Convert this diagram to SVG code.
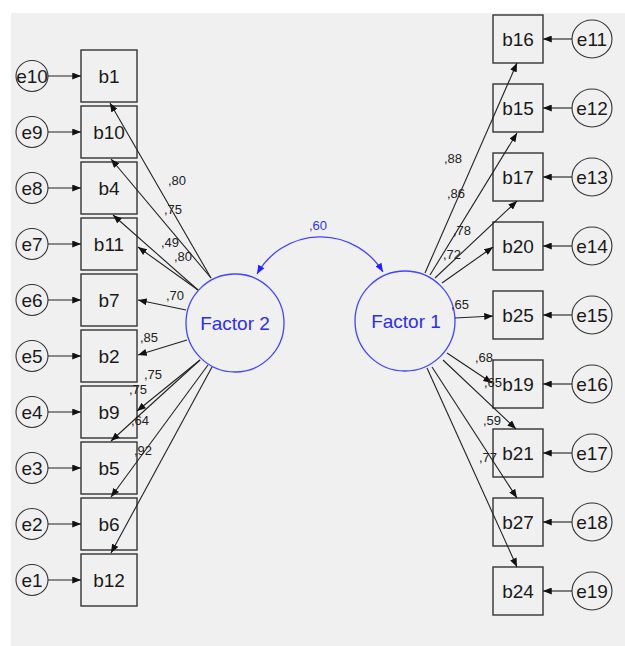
<svg xmlns="http://www.w3.org/2000/svg" width="625" height="646" viewBox="0 0 625 646">
<defs>
<style>
.box{fill:none;stroke:#333;stroke-width:1.4}
.err{fill:#f0f0f0;stroke:#333;stroke-width:1.1}
.fac{fill:#f0f0f0;stroke:#4444ff;stroke-width:1.3}
.t{font-family:"Liberation Sans",Arial,sans-serif;font-size:19px;fill:#1a1a1a;text-anchor:middle}
.ft{font-family:"Liberation Sans",Arial,sans-serif;font-size:19px;fill:#2e2ee6;text-anchor:middle}
.lb{font-family:"Liberation Sans",Arial,sans-serif;font-size:13px;fill:#222;text-anchor:middle}
.lbb{font-family:"Liberation Sans",Arial,sans-serif;font-size:13px;fill:#3333ee;text-anchor:middle}
.c{stroke:#222;stroke-width:1.1;fill:none;marker-end:url(#ah)}
.cv{stroke:#4444ff;stroke-width:1.3;fill:none;marker-end:url(#bh);marker-start:url(#bh)}
</style>
<marker id="ah" viewBox="0 0 10 8" refX="10" refY="4" markerWidth="9" markerHeight="7" markerUnits="userSpaceOnUse" orient="auto"><path d="M0,0 L10,4 L0,8 z" fill="#111"/></marker>
<marker id="bh" viewBox="0 0 10 8" refX="10" refY="4" markerWidth="9" markerHeight="7" markerUnits="userSpaceOnUse" orient="auto-start-reverse"><path d="M0,0 L10,4 L0,8 z" fill="#2222ff"/></marker>
</defs>
<rect x="0" y="0" width="625" height="646" fill="#fff"/>
<rect x="11" y="13" width="614" height="633" fill="#f0f0f0"/>

<g id="Factor2"><circle class="fac" cx="235" cy="323" r="49"/><text class="ft" x="235" y="330">Factor 2</text></g>
<g id="Factor1"><circle class="fac" cx="405" cy="321" r="50"/><text class="ft" x="406" y="328">Factor 1</text></g>

<g id="b1"><rect class="box" x="81" y="50" width="56" height="52"/><text class="t" x="109" y="83">b1</text></g>
<g id="b10"><rect class="box" x="81" y="106" width="56" height="52"/><text class="t" x="109" y="139">b10</text></g>
<g id="b4"><rect class="box" x="81" y="162" width="56" height="52"/><text class="t" x="109" y="195">b4</text></g>
<g id="b11"><rect class="box" x="81" y="218" width="56" height="52"/><text class="t" x="109" y="251">b11</text></g>
<g id="b7"><rect class="box" x="81" y="274" width="56" height="52"/><text class="t" x="109" y="307">b7</text></g>
<g id="b2"><rect class="box" x="81" y="330" width="56" height="52"/><text class="t" x="109" y="363">b2</text></g>
<g id="b9"><rect class="box" x="81" y="386" width="56" height="52"/><text class="t" x="109" y="419">b9</text></g>
<g id="b5"><rect class="box" x="81" y="442" width="56" height="52"/><text class="t" x="109" y="475">b5</text></g>
<g id="b6"><rect class="box" x="81" y="498" width="56" height="52"/><text class="t" x="109" y="531">b6</text></g>
<g id="b12"><rect class="box" x="81" y="554" width="56" height="52"/><text class="t" x="109" y="587">b12</text></g>

<g id="e10"><ellipse class="err" cx="32" cy="76" rx="16" ry="15.5"/><text class="t" x="32" y="83">e10</text></g>
<g id="e9"><ellipse class="err" cx="32" cy="132" rx="16" ry="15.5"/><text class="t" x="32" y="139">e9</text></g>
<g id="e8"><ellipse class="err" cx="32" cy="188" rx="16" ry="15.5"/><text class="t" x="32" y="195">e8</text></g>
<g id="e7"><ellipse class="err" cx="32" cy="244" rx="16" ry="15.5"/><text class="t" x="32" y="251">e7</text></g>
<g id="e6"><ellipse class="err" cx="32" cy="300" rx="16" ry="15.5"/><text class="t" x="32" y="307">e6</text></g>
<g id="e5"><ellipse class="err" cx="32" cy="356" rx="16" ry="15.5"/><text class="t" x="32" y="363">e5</text></g>
<g id="e4"><ellipse class="err" cx="32" cy="412" rx="16" ry="15.5"/><text class="t" x="32" y="419">e4</text></g>
<g id="e3"><ellipse class="err" cx="32" cy="468" rx="16" ry="15.5"/><text class="t" x="32" y="475">e3</text></g>
<g id="e2"><ellipse class="err" cx="32" cy="524" rx="16" ry="15.5"/><text class="t" x="32" y="531">e2</text></g>
<g id="e1"><ellipse class="err" cx="32" cy="580" rx="16" ry="15.5"/><text class="t" x="32" y="587">e1</text></g>

<g id="b16"><rect class="box" x="493" y="15" width="50" height="48"/><text class="t" x="518" y="46">b16</text></g>
<g id="b15"><rect class="box" x="493" y="84" width="50" height="48"/><text class="t" x="518" y="115">b15</text></g>
<g id="b17"><rect class="box" x="493" y="153" width="50" height="48"/><text class="t" x="518" y="184">b17</text></g>
<g id="b20"><rect class="box" x="493" y="222" width="50" height="48"/><text class="t" x="518" y="253">b20</text></g>
<g id="b25"><rect class="box" x="493" y="291" width="50" height="48"/><text class="t" x="518" y="322">b25</text></g>
<g id="b19"><rect class="box" x="493" y="360" width="50" height="48"/><text class="t" x="518" y="391">b19</text></g>
<g id="b21"><rect class="box" x="493" y="429" width="50" height="48"/><text class="t" x="518" y="460">b21</text></g>
<g id="b27"><rect class="box" x="493" y="498" width="50" height="48"/><text class="t" x="518" y="529">b27</text></g>
<g id="b24"><rect class="box" x="493" y="567" width="50" height="48"/><text class="t" x="518" y="598">b24</text></g>

<g id="e11"><ellipse class="err" cx="592" cy="39" rx="20" ry="19"/><text class="t" x="592" y="46">e11</text></g>
<g id="e12"><ellipse class="err" cx="592" cy="108" rx="20" ry="19"/><text class="t" x="592" y="115">e12</text></g>
<g id="e13"><ellipse class="err" cx="592" cy="177" rx="20" ry="19"/><text class="t" x="592" y="184">e13</text></g>
<g id="e14"><ellipse class="err" cx="592" cy="246" rx="20" ry="19"/><text class="t" x="592" y="253">e14</text></g>
<g id="e15"><ellipse class="err" cx="592" cy="315" rx="20" ry="19"/><text class="t" x="592" y="322">e15</text></g>
<g id="e16"><ellipse class="err" cx="592" cy="384" rx="20" ry="19"/><text class="t" x="592" y="391">e16</text></g>
<g id="e17"><ellipse class="err" cx="592" cy="453" rx="20" ry="19"/><text class="t" x="592" y="460">e17</text></g>
<g id="e18"><ellipse class="err" cx="592" cy="522" rx="20" ry="19"/><text class="t" x="592" y="529">e18</text></g>
<g id="e19"><ellipse class="err" cx="592" cy="591" rx="20" ry="19"/><text class="t" x="592" y="598">e19</text></g>

<g id="connectors">
<path class="c" d="M48,76 H81"/>
<path class="c" d="M48,132 H81"/>
<path class="c" d="M48,188 H81"/>
<path class="c" d="M48,244 H81"/>
<path class="c" d="M48,300 H81"/>
<path class="c" d="M48,356 H81"/>
<path class="c" d="M48,412 H81"/>
<path class="c" d="M48,468 H81"/>
<path class="c" d="M48,524 H81"/>
<path class="c" d="M48,580 H81"/>
<path class="c" d="M572,39 H543"/>
<path class="c" d="M572,108 H543"/>
<path class="c" d="M572,177 H543"/>
<path class="c" d="M572,246 H543"/>
<path class="c" d="M572,315 H543"/>
<path class="c" d="M572,384 H543"/>
<path class="c" d="M572,453 H543"/>
<path class="c" d="M572,522 H543"/>
<path class="c" d="M572,591 H543"/>
<path class="c" d="M211,278 L110,103"/>
<path class="c" d="M211,278 L111,159"/>
<path class="c" d="M198,290 L113,215"/>
<path class="c" d="M198,290 L138,247"/>
<path class="c" d="M186,310 L138,300"/>
<path class="c" d="M187,340 L138,355"/>
<path class="c" d="M200,360 L137,411"/>
<path class="c" d="M200,360 L111,441"/>
<path class="c" d="M208,365 L111,497"/>
<path class="c" d="M212,367 L111,553"/>
<path class="c" d="M425,273 L517,63"/>
<path class="c" d="M430,275 L517,133"/>
<path class="c" d="M435,278 L517,201"/>
<path class="c" d="M442,283 L493,247"/>
<path class="c" d="M455,318 L493,316"/>
<path class="c" d="M447,353 L492,383"/>
<path class="c" d="M443,360 L516,429"/>
<path class="c" d="M432,367 L517,498"/>
<path class="c" d="M427,368 L517,567"/>
<path class="cv" d="M257,274 A73,73 0 0 1 383,272"/>
</g>

<g id="labels">
<text class="lb" x="177" y="185">,80</text>
<text class="lb" x="173" y="214">,75</text>
<text class="lb" x="170" y="247">,49</text>
<text class="lb" x="183" y="261">,80</text>
<text class="lb" x="175" y="300">,70</text>
<text class="lb" x="149" y="342">,85</text>
<text class="lb" x="153" y="379">,75</text>
<text class="lb" x="138" y="394">,75</text>
<text class="lb" x="140" y="425">,64</text>
<text class="lb" x="143" y="455">,92</text>
<text class="lb" x="453" y="163">,88</text>
<text class="lb" x="456" y="198">,86</text>
<text class="lb" x="462" y="235">,78</text>
<text class="lb" x="452" y="259">,72</text>
<text class="lb" x="460" y="309">,65</text>
<text class="lb" x="484" y="362">,68</text>
<text class="lb" x="493" y="387">,65</text>
<text class="lb" x="492" y="425">,59</text>
<text class="lb" x="488" y="462">,77</text>
<text class="lbb" x="318" y="230">,60</text>
</g>
</svg>
